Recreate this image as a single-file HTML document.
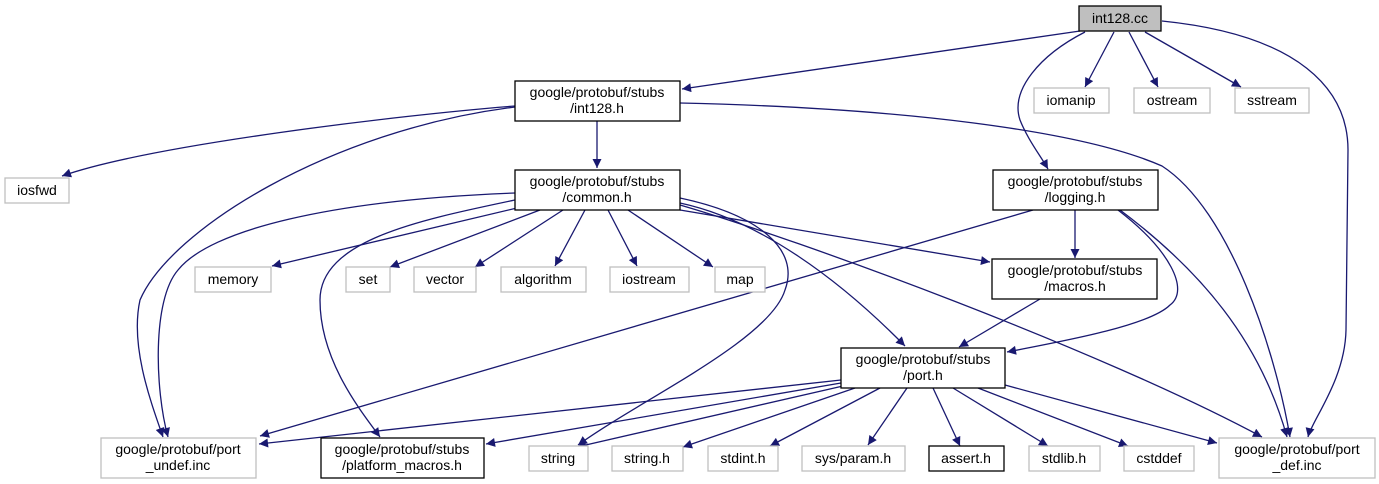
<!DOCTYPE html>
<html><head><meta charset="utf-8"><style>
html,body{margin:0;padding:0;background:#fff;}
svg{display:block;}
text{font-family:"Liberation Sans",sans-serif;font-size:14px;fill:#000;text-anchor:middle;}
.e{fill:none;stroke:#191970;stroke-width:1.3;}
.g{fill:#fff;stroke:#bfbfbf;stroke-width:1.3;}
.b{fill:#fff;stroke:#000;stroke-width:1.3;}
</style></head><body>
<svg width="1379" height="484" viewBox="0 0 1379 484" xmlns="http://www.w3.org/2000/svg">
<defs><marker id="a" viewBox="0 0 10 10" refX="10" refY="5" markerWidth="11" markerHeight="9" markerUnits="userSpaceOnUse" orient="auto"><path d="M0,0 L10,5 L0,10 z" fill="#191970"/></marker></defs>
<g marker-end="url(#a)">
<path class="e" d="M1080,31 L682,89"/>
<path class="e" d="M1085,32 C1040,55 1010,90 1020,120 C1028,140 1040,155 1048,169"/>
<path class="e" d="M1114,32 L1085,87"/>
<path class="e" d="M1129,32 L1158,87"/>
<path class="e" d="M1145,32 L1241,87"/>
<path class="e" d="M1162,21 C1300,35 1348,90 1348,150 L1346,330 C1345,380 1312,420 1308,437"/>
<path class="e" d="M515,106 C400,115 150,145 62,176"/>
<path class="e" d="M515,107 C330,130 170,230 140,300 C130,345 150,400 163,437"/>
<path class="e" d="M515,193 C330,200 210,230 178,270 C152,300 155,390 168,437"/>
<path class="e" d="M597,121 L597,168"/>
<path class="e" d="M680,103 C900,108 1080,130 1162,166 C1230,210 1275,350 1290,437"/>
<path class="e" d="M517,208 L272,266"/>
<path class="e" d="M540,210 L390,267"/>
<path class="e" d="M563,210 L475,267"/>
<path class="e" d="M585,210 L555,266"/>
<path class="e" d="M608,210 L637,266"/>
<path class="e" d="M628,210 L713,267"/>
<path class="e" d="M515,200 C420,220 320,240 320,300 C320,360 360,410 380,437"/>
<path class="e" d="M680,198 C760,215 800,250 785,290 C770,340 640,400 578,445"/>
<path class="e" d="M680,203 C760,220 840,280 905,346"/>
<path class="e" d="M680,205 C800,240 1100,350 1262,437"/>
<path class="e" d="M680,210 L990,262"/>
<path class="e" d="M1033,210 L260,436"/>
<path class="e" d="M1075,210 L1075,258"/>
<path class="e" d="M1118,210 C1170,250 1190,290 1170,305 C1150,325 1070,340 1007,352"/>
<path class="e" d="M1120,210 C1200,270 1260,340 1287,437"/>
<path class="e" d="M1040,299 L959,347"/>
<path class="e" d="M841,380 L259,444"/>
<path class="e" d="M841,383 L486,444"/>
<path class="e" d="M843,386 L577,447"/>
<path class="e" d="M855,388 L683,447"/>
<path class="e" d="M880,388 L770,446"/>
<path class="e" d="M907,388 L868,445"/>
<path class="e" d="M933,388 L960,446"/>
<path class="e" d="M953,388 L1048,446"/>
<path class="e" d="M978,388 L1128,446"/>
<path class="e" d="M1005,385 L1217,443"/>
</g>
<rect x="1079" y="6" width="82" height="25" fill="#bfbfbf" stroke="#000" stroke-width="1.3"/><text x="1120" y="23">int128.cc</text>
<rect class="b" x="515" y="81" width="165" height="40"/><text x="597" y="97">google/protobuf/stubs</text><text x="597" y="113">/int128.h</text>
<rect class="g" x="5" y="178" width="64" height="25"/><text x="37" y="195">iosfwd</text>
<rect class="b" x="515" y="170" width="165" height="40"/><text x="597" y="186">google/protobuf/stubs</text><text x="597" y="202">/common.h</text>
<rect class="b" x="993" y="170" width="165" height="40"/><text x="1075" y="186">google/protobuf/stubs</text><text x="1075" y="202">/logging.h</text>
<rect class="g" x="1034" y="88" width="75" height="25"/><text x="1071" y="105">iomanip</text>
<rect class="g" x="1134" y="88" width="76" height="25"/><text x="1172" y="105">ostream</text>
<rect class="g" x="1235" y="88" width="74" height="25"/><text x="1272" y="105">sstream</text>
<rect class="g" x="195" y="267" width="76" height="25"/><text x="233" y="284">memory</text>
<rect class="g" x="346" y="267" width="44" height="25"/><text x="368" y="284">set</text>
<rect class="g" x="414" y="267" width="62" height="25"/><text x="445" y="284">vector</text>
<rect class="g" x="501" y="267" width="85" height="25"/><text x="543" y="284">algorithm</text>
<rect class="g" x="610" y="267" width="79" height="25"/><text x="649" y="284">iostream</text>
<rect class="g" x="715" y="267" width="50" height="25"/><text x="740" y="284">map</text>
<rect class="b" x="992" y="259" width="165" height="40"/><text x="1075" y="275">google/protobuf/stubs</text><text x="1075" y="291">/macros.h</text>
<rect class="b" x="841" y="348" width="164" height="40"/><text x="923" y="364">google/protobuf/stubs</text><text x="923" y="380">/port.h</text>
<rect class="g" x="101" y="438" width="155" height="40"/><text x="178" y="454">google/protobuf/port</text><text x="178" y="470">_undef.inc</text>
<rect class="b" x="321" y="438" width="163" height="40"/><text x="402" y="454">google/protobuf/stubs</text><text x="402" y="470">/platform_macros.h</text>
<rect class="g" x="529" y="446" width="59" height="25"/><text x="558" y="463">string</text>
<rect class="g" x="612" y="446" width="71" height="25"/><text x="647" y="463">string.h</text>
<rect class="g" x="708" y="446" width="70" height="25"/><text x="743" y="463">stdint.h</text>
<rect class="g" x="802" y="446" width="103" height="25"/><text x="853" y="463">sys/param.h</text>
<rect class="b" x="929" y="446" width="75" height="25"/><text x="966" y="463">assert.h</text>
<rect class="g" x="1029" y="446" width="71" height="25"/><text x="1064" y="463">stdlib.h</text>
<rect class="g" x="1124" y="446" width="70" height="25"/><text x="1159" y="463">cstddef</text>
<rect class="g" x="1219" y="438" width="156" height="40"/><text x="1297" y="454">google/protobuf/port</text><text x="1297" y="470">_def.inc</text>
</svg>
</body></html>
